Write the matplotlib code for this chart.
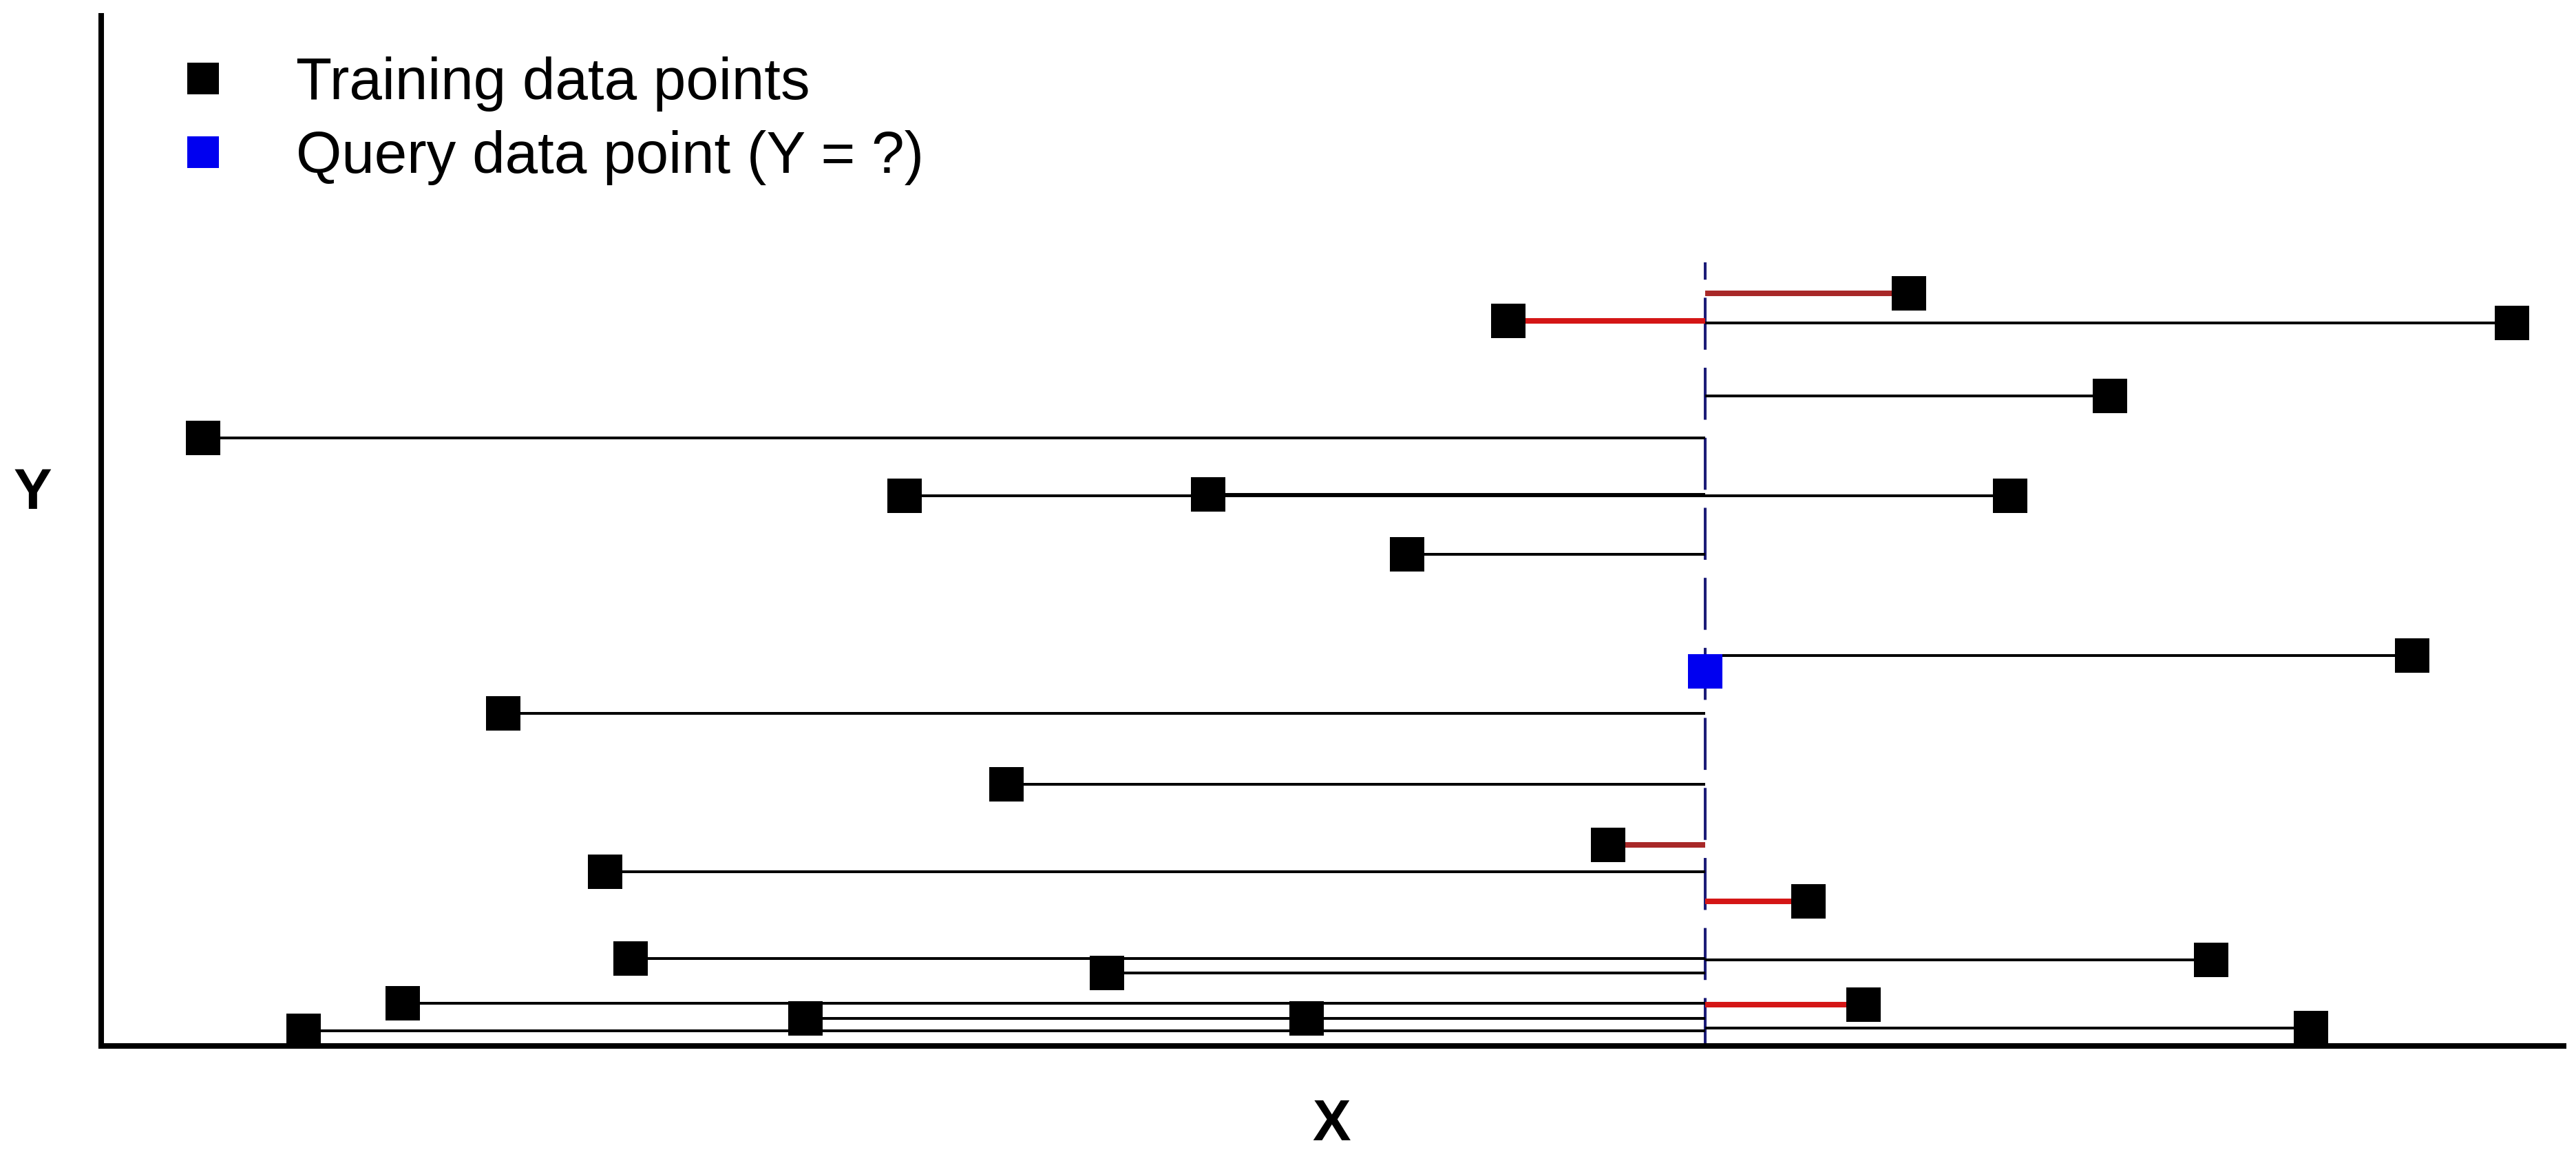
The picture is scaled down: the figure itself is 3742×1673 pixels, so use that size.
import matplotlib
matplotlib.use('Agg')
import matplotlib.pyplot as plt
from matplotlib.lines import Line2D
import numpy as np

plt.rcParams['font.family'] = ['Liberation Sans', 'DejaVu Sans']

# ---------------- data ----------------
train_x = [2626, 2044, 3502, 2918, 148, 1167, 1608, 2773, 1897, 3357, 584, 1315,
           2189, 732, 2480, 769, 1461, 3065, 438, 1023, 1751, 2560, 294, 3210]
train_y = [1093, 1053, 1050, 944, 883, 799, 801, 799, 714, 567, 483, 380,
           292, 253, 210, 127, 106, 125, 62, 40, 40, 60, 22, 26]
query_x = 2330
query_y = 544
k_neighbors = 5
legend_labels = ['Training data points', 'Query data point (Y = ?)']
x_label = 'X'
y_label = 'Y'

# ---------------- figure ----------------
W, H, DPI = 3742, 1673, 100
fig = plt.figure(figsize=(W / DPI, H / DPI), dpi=DPI)
ax = fig.add_axes([146.7 / W, (H - 1519) / H, (3724 - 146.7) / W, (1519 - 23) / H])
ax.set_xlim(0, 3577)
ax.set_ylim(0, 1496)

for s in ['top', 'right']:
    ax.spines[s].set_visible(False)
for s in ['left', 'bottom']:
    ax.spines[s].set_linewidth(5.8)
    ax.spines[s].set_color('black')
ax.set_xticks([])
ax.set_yticks([])

tx = np.array(train_x)
ty = np.array(train_y)
dist = np.abs(tx - query_x)
nearest = set(np.argsort(dist)[:k_neighbors].tolist())

RED = '#d41616'
DARK_RED = '#a82828'
dark_shade = {0, 12}

# dashed vertical line through query x
ax.plot([query_x, query_x], [1138, 0], color='#1c1c78', lw=2.9,
        linestyle=(12.5, (18.75, 6.5)), zorder=2, solid_capstyle='butt')

# horizontal distance lines
for i, (x, y) in enumerate(zip(tx, ty)):
    if i in nearest:
        c = DARK_RED if i in dark_shade else RED
        ax.plot([query_x, x], [y, y], color=c, lw=5.8, solid_capstyle='butt', zorder=3)
    else:
        ax.plot([query_x, x], [y, y], color='black', lw=2.9, solid_capstyle='butt', zorder=2.5)

# markers
ax.plot(tx, ty, linestyle='none', marker='s', ms=36, color='black', mew=0, zorder=4)
ax.plot([query_x], [query_y], linestyle='none', marker='s', ms=36, color='#0000f0', mew=0, zorder=5)

# legend
handles = [Line2D([], [], linestyle='none', marker='s', ms=33, color='black', mew=0),
           Line2D([], [], linestyle='none', marker='s', ms=33, color='#0000f0', mew=0)]
ax.legend(handles, legend_labels, loc='upper left',
          bbox_to_anchor=(252.5 / W, (H - 82) / H), bbox_transform=fig.transFigure,
          frameon=False, fontsize=61.5, handlelength=1.0, handletextpad=1.08,
          borderpad=0, borderaxespad=0, labelspacing=0.32)

# axis labels
ax.set_ylabel(y_label, rotation=0, fontsize=60, fontweight='bold', ha='center', va='baseline')
ax.yaxis.set_label_coords((47 - 146.7) / (3724 - 146.7), (1519 - 739) / 1496)
ax.set_xlabel(x_label, fontsize=60, fontweight='bold', ha='center', va='baseline')
ax.xaxis.set_label_coords((1934 - 146.7) / (3724 - 146.7), (1519 - 1656) / 1496)

fig.savefig('out.png', dpi=DPI)
